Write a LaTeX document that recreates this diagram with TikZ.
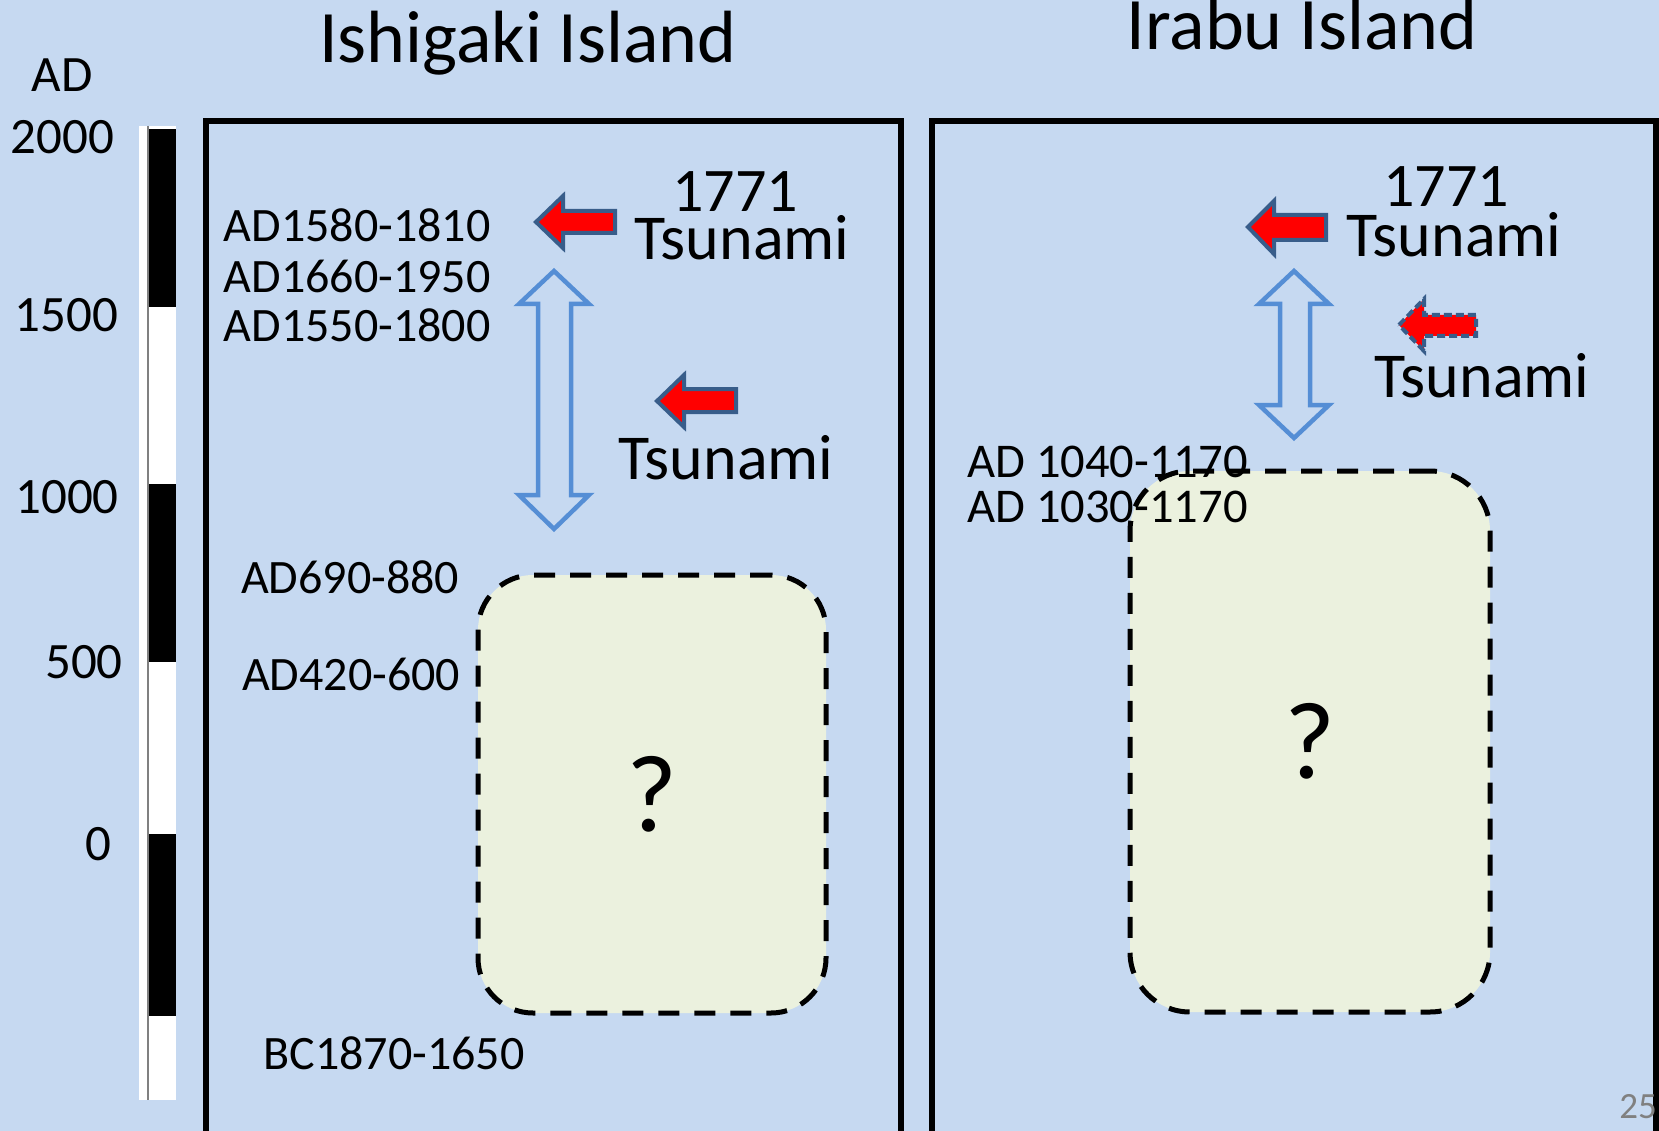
\documentclass[tikz,border=0pt]{standalone}
\usepackage{fontspec}
\setmainfont{Carlito}
\definecolor{bgblue}{HTML}{C6D9F1}
\definecolor{arrowblue}{HTML}{385D8A}
\definecolor{dblblue}{HTML}{558ED5}
\definecolor{boxfill}{HTML}{EBF1DE}
\begin{document}
\begin{tikzpicture}[x=1pt,y=-1pt,
  lab/.style={inner sep=0pt, font=\fontsize{48}{58}\selectfont},
  labr/.style={inner sep=0pt, font=\fontsize{48.5}{58}\selectfont},
  yr/.style={inner sep=0pt, font=\fontsize{51}{61}\selectfont},
  ttl/.style={inner sep=0pt, font=\fontsize{74}{88}\selectfont, anchor=base},
  tsu/.style={inner sep=0pt, font=\fontsize{64}{74}\selectfont},
  yrt/.style={inner sep=0pt, font=\fontsize{62}{72}\selectfont},
  panel/.style={draw=black, line width=5.5pt, line join=miter},
  redarr/.style={fill=red, draw=arrowblue, line width=4pt, line join=miter},
  dblarr/.style={draw=dblblue, line width=4.5pt, line join=miter},
  qbox/.style={draw=black, fill=boxfill, line width=5pt, dash pattern=on 21pt off 15pt,
    rounded corners=55pt, inner sep=0pt, font=\fontsize{110}{130}\selectfont}
]
\fill[bgblue] (0,0) rectangle (1659,1131);
\useasboundingbox (0,0) rectangle (1659,1131);

% titles
\node[ttl] (tIshi) at (528,63) {Ishigaki Island};
\node[ttl] (tIrabu) at (1302,50) {Irabu Island};

% time scale
\node[yr] (yAD) at (62,75) {AD};
\node[yr] (y2000) at (62.5,137.5) {2000};
\node[yr] (y1500) at (66.5,315) {1500};
\node[yr] (y1000) at (67,497) {1000};
\node[yr] (y500) at (84,662) {500};
\node[yr] (y0) at (98,844) {0};
\fill[white] (139,126) rectangle (176,1100);
\fill[black] (148,129) rectangle (176,307);
\fill[black] (148,484) rectangle (176,662);
\fill[black] (148,834) rectangle (176,1016);
\draw[gray, line width=1.5pt] (148,126) -- (148,1100);

% panels
\draw[panel] (206,1131) -- (206,121) -- (901,121) -- (901,1131);
\draw[panel] (932,1131) -- (932,121) -- (1656,121) -- (1656,1131);

% left panel
\node[qbox, minimum width=348pt, minimum height=438pt] (boxL) at (652,794) {?};
\node[lab] (l1) at (357,225) {AD1580-1810};
\node[lab] (l2) at (357,276) {AD1660-1950};
\node[lab] (l3) at (357,325) {AD1550-1800};
\node[lab] (l4) at (350,577) {AD690-880};
\node[lab] (l5) at (351,674) {AD420-600};
\node[lab] (l6) at (394,1053) {BC1870-1650};
\node[yrt] (yL) at (735,192) {1771};
\node[tsu] (tsL1) at (742,238) {Tsunami};
\node[tsu] (tsL2) at (726,458) {Tsunami};
\draw[redarr] (536,222) -- (563,196) -- (563,211) -- (615,211) -- (615,233) -- (563,233) -- (563,248) -- cycle;
\draw[redarr] (657,401) -- (684,375) -- (684,389) -- (736,389) -- (736,412) -- (684,412) -- (684,427) -- cycle;
\draw[dblarr] (554,271) -- (589,304) -- (571,304) -- (571,495) -- (589,495) -- (554,529)
  -- (519,495) -- (538,495) -- (538,304) -- (519,304) -- cycle;

% right panel
\node[qbox, minimum width=360pt, minimum height=541pt, rounded corners=60pt] (boxR) at (1310,741.5) {?};
\node[labr, anchor=west] (r1) at (967,462) {AD 1040-1170};
\node[labr, anchor=west] (r2) at (967,507) {AD 1030-1170};
\node[yrt] (yR) at (1446,187) {1771};
\node[tsu] (tsR1) at (1454,235) {Tsunami};
\node[tsu] (tsR2) at (1482,376) {Tsunami};
\draw[redarr] (1248,227) -- (1274,201) -- (1274,215) -- (1326,215) -- (1326,240) -- (1274,240) -- (1274,254) -- cycle;
\draw[redarr, dash pattern=on 8pt off 4pt] (1399,325) -- (1424,299) -- (1424,315) -- (1476,315) -- (1476,336) -- (1424,336) -- (1424,351) -- cycle;
\draw[dblarr] (1294,271) -- (1329,304) -- (1310,304) -- (1310,405) -- (1329,405) -- (1294,438)
  -- (1259,405) -- (1280,405) -- (1280,304) -- (1259,304) -- cycle;

% page number
\node[inner sep=0pt, text=gray, font=\fontsize{37}{44}\selectfont] (pg) at (1638,1107) {25};
\end{tikzpicture}
\end{document}
